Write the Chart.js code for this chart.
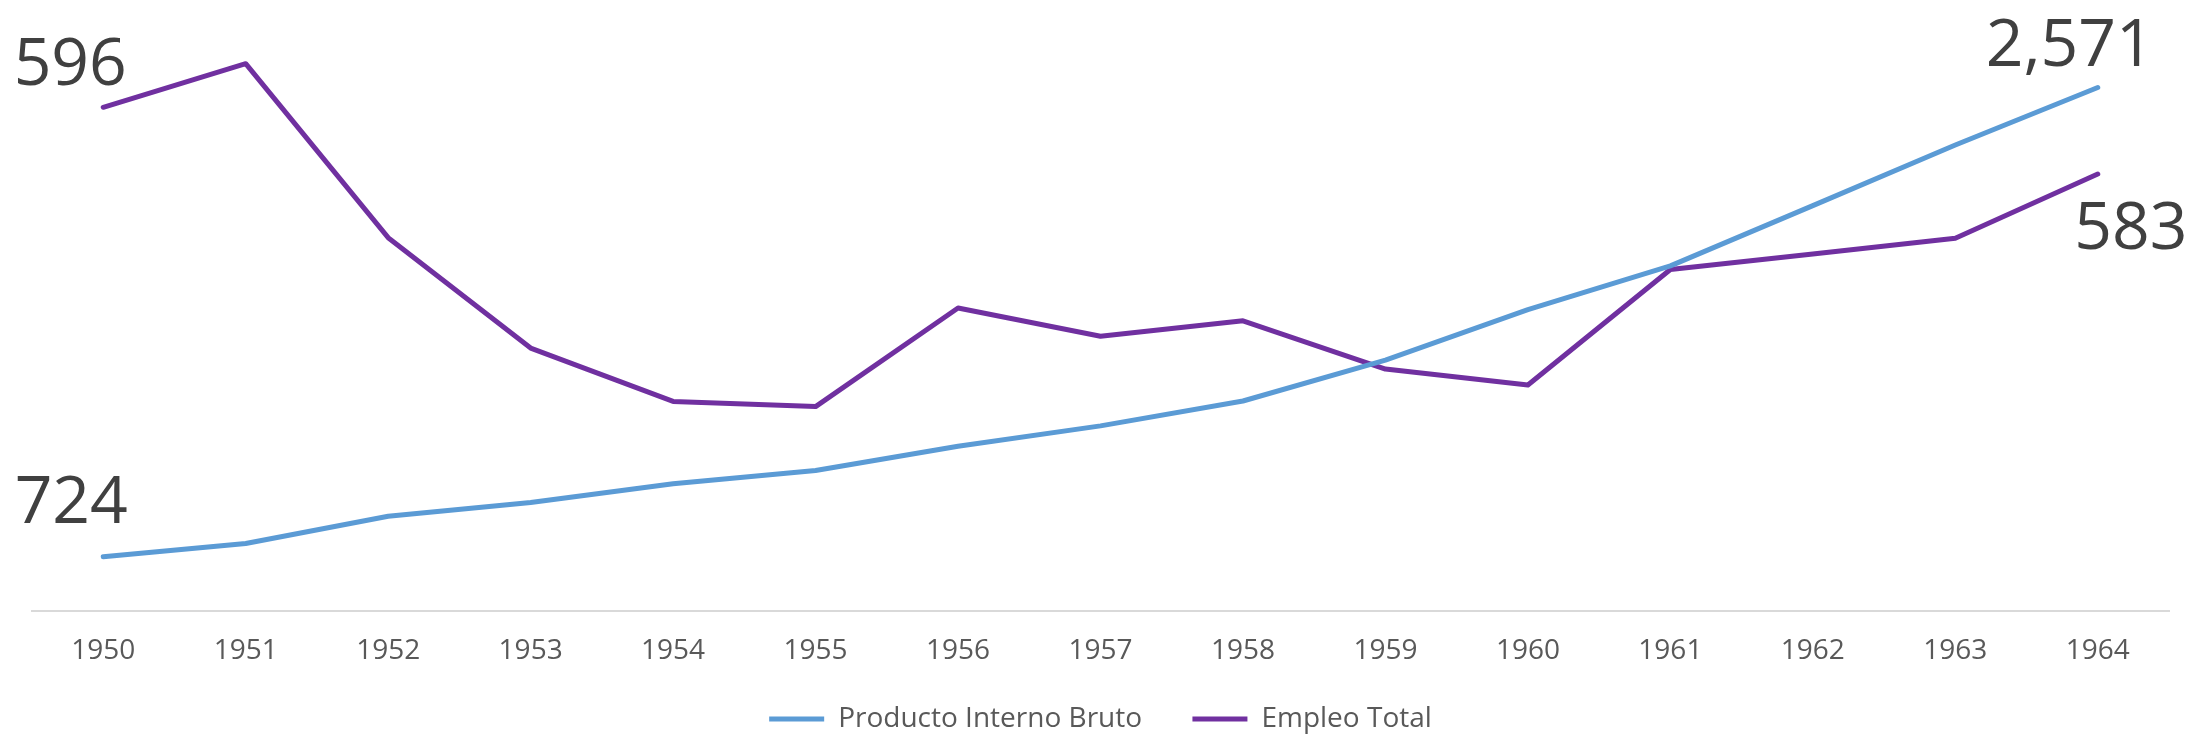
<!DOCTYPE html>
<html>
<head>
<meta charset="utf-8">
<script src="https://cdn.jsdelivr.net/npm/chart.js@4.4.1/dist/chart.umd.min.js"></script>
<style>
    html, body { margin: 0; padding: 0; background: #fff; }
    #wrap { width: 2196px; height: 735px; }
</style>
</head>
<body>
<div id="wrap"><canvas id="chart" width="2196" height="735"></canvas></div>
<script>
// datos
const anios = ['1950', '1951', '1952', '1953', '1954', '1955', '1956', '1957',
    '1958', '1959', '1960', '1961', '1962', '1963', '1964'];
const pib = [724, 776, 883, 937, 1011, 1063, 1159, 1239, 1337, 1498, 1697, 1869, 2106, 2345, 2571];
const empleo = [596, 604.5, 570.6, 549.1, 538.7, 537.7, 556.9, 551.4, 554.4, 545.0, 541.9, 564.4, 567.4, 570.5, 583];
const nombres = ['Producto Interno Bruto', 'Empleo Total'];
const colores = ['#5b9bd5', '#7030a0'];

// etiquetas de dato: [serie, indice, dx, dy]
const etiquetas = [
    [0, 0, -32, -34],
    [0, 14, -28, -22],
    [1, 0, -33, -22],
    [1, 14, 33, 75]
];

const fuente = '"Open Sans", "Noto Sans", sans-serif';

const etiquetasPlugin = {
    id: 'etiquetas',
    afterDatasetsDraw(chart) {
        const ctx = chart.ctx;
        ctx.save();
        ctx.font = '66px ' + fuente;
        ctx.fillStyle = '#404040';
        ctx.textAlign = 'center';
        ctx.textBaseline = 'alphabetic';
        etiquetas.forEach(function (e) {
            let punto = chart.getDatasetMeta(e[0]).data[e[1]];
            let valor = chart.data.datasets[e[0]].data[e[1]];
            ctx.fillText(Math.round(valor).toLocaleString('en-US'), punto.x + e[2], punto.y + e[3]);
        });
        ctx.restore();
    }
};

function serie(i, datos, eje) {
    return {
        label: nombres[i],
        data: datos,
        borderColor: colores[i],
        backgroundColor: colores[i],
        borderWidth: 5,
        borderCapStyle: 'round',
        borderJoinStyle: 'round',
        pointRadius: 0,
        tension: 0,
        yAxisID: eje
    };
}

var ctx = document.getElementById('chart').getContext('2d');
const config = {
    type: 'line',
    data: {
        labels: anios,
        datasets: [serie(0, pib, 'y'), serie(1, empleo, 'y2')]
    },
    options: {
        responsive: false,
        animation: false,
        clip: false,
        layout: {
            padding: {left: 32, right: 27, top: 0, bottom: -8}
        },
        plugins: {
            legend: {
                position: 'bottom',
                labels: {
                    usePointStyle: true,
                    pointStyle: 'line',
                    pointStyleWidth: 55,
                    padding: 14,
                    color: '#595959',
                    font: {family: fuente, size: 28},
                    generateLabels: function (chart) {
                        let items = Chart.defaults.plugins.legend.labels.generateLabels(chart);
                        items.forEach(function (it, i) {
                            it.lineWidth = 5;
                            if (i < items.length - 1) {
                                it.text += '     ';
                            }
                        });
                        return items;
                    }
                }
            },
            tooltip: {enabled: false}
        },
        scales: {
            x: {
                offset: true,
                grid: {display: false, drawTicks: false},
                border: {display: true, color: '#d9d9d9', width: 2},
                ticks: {
                    color: '#595959',
                    padding: 23,
                    autoSkip: false,
                    maxRotation: 0,
                    font: {family: fuente, size: 28}
                }
            },
            y: {
                display: false,
                min: 508.6,
                max: 2915.7
            },
            y2: {
                display: false,
                min: 497.8,
                max: 616.9
            }
        }
    },
    plugins: [etiquetasPlugin]
};
myChart = new Chart(ctx, config);
</script>
</body>
</html>
